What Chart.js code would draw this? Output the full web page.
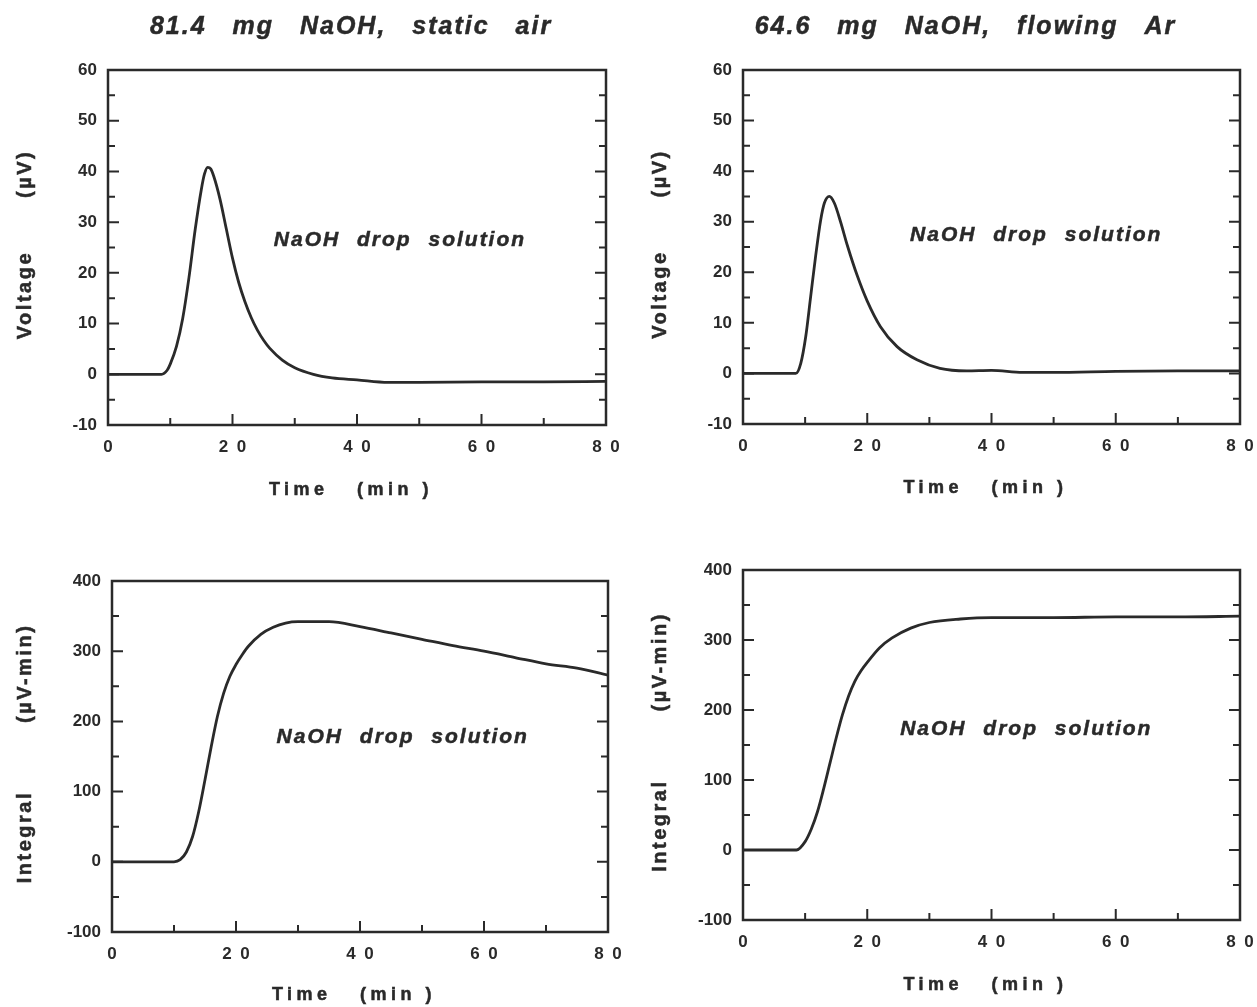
<!DOCTYPE html>
<html>
<head>
<meta charset="utf-8">
<script src="https://cdn.jsdelivr.net/npm/chart.js@4/dist/chart.umd.min.js"></script>
<style>
  body { margin: 0; background: #fff; }
  .panel { position: absolute; }
</style>
</head>
<body>
<div class="panel" style="left:0;top:0;width:626px;height:510px"><canvas id="airVolt"></canvas></div>
<div class="panel" style="left:630px;top:0;width:627px;height:510px"><canvas id="arVolt"></canvas></div>
<div class="panel" style="left:0;top:510px;width:626px;height:497px"><canvas id="airInt"></canvas></div>
<div class="panel" style="left:630px;top:500px;width:627px;height:507px"><canvas id="arInt"></canvas></div>
<script>
// NaOH drop solution calorimetry, four panels

const timeTicks = [0, 20, 40, 60, 80];
const voltageTicks = [-10, 0, 10, 20, 30, 40, 50, 60];
const integralTicks = [-100, 0, 100, 200, 300, 400];

// 81.4 mg NaOH, static air
const airTime = [0, 5, 8.6, 9.5, 10, 11, 12, 13, 14, 15, 15.5, 16, 16.5, 17, 18, 19, 20, 21, 22, 23, 24, 25, 26, 28, 30, 33, 36, 40, 45, 50, 60, 70, 80];
const airVoltage = [0, 0, 0, 0.8, 2, 5.5, 11, 19, 28.5, 36.5, 39.5, 40.8, 40.5, 39, 34.5, 28.7, 22.9, 18.1, 14.3, 11.2, 8.7, 6.7, 5.1, 2.8, 1.3, 0, -0.7, -1.1, -1.6, -1.6, -1.5, -1.5, -1.4];

// 64.6 mg NaOH, flowing Ar
const arTime = [0, 5, 8.5, 9.3, 10.1, 10.9, 11.7, 12.5, 13.1, 13.9, 14.7, 15.7, 16.8, 18.4, 20, 22.1, 24.8, 28, 31.7, 36, 40, 45, 50, 60, 70, 80];
const arVoltage = [0, 0, 0, 2, 7.3, 15.3, 23.3, 30.3, 33.7, 35, 33.7, 30, 25.3, 19.3, 14.3, 9.3, 5.3, 2.7, 1, 0.5, 0.6, 0.2, 0.2, 0.4, 0.5, 0.5];

const airIntTime = [0, 5, 10, 11, 12, 13, 14, 15, 16, 17, 18, 19, 20, 21, 22, 24, 26, 28, 30, 35, 40, 45, 50, 55, 60, 65, 70, 75, 80];
const airIntegral = [0, 0, 0, 3, 14, 36, 72, 117, 164, 207, 240, 264, 281, 295, 307, 324, 334, 340, 342, 342, 335, 326, 317, 308, 300, 291, 282, 276, 266];

const arIntTime = [0, 5, 8.6, 10, 11, 12, 13, 14, 15, 16, 17, 18, 19, 20, 22, 24, 27, 30, 35, 40, 50, 60, 70, 80];
const arIntegral = [0, 0, 0, 12, 30, 55, 88, 124, 160, 193, 220, 241, 256, 268, 289, 303, 317, 325, 330, 332, 332, 333, 333, 334];

const ink = "#2a2a2a";
const family = "'Liberation Sans', Arial, Helvetica, sans-serif";

function drawText(ctx, str, x, y, font, spacing, words, rotate) {
  ctx.save();
  ctx.font = font;
  ctx.fillStyle = ink;
  ctx.strokeStyle = ink;
  ctx.lineWidth = 0.5;
  ctx.textAlign = "center";
  ctx.textBaseline = "middle";
  ctx.letterSpacing = spacing + "px";
  ctx.wordSpacing = words + "px";
  ctx.translate(x, y);
  if (rotate) ctx.rotate(-Math.PI / 2);
  ctx.fillText(str, 0, 0);
  ctx.strokeText(str, 0, 0);
  ctx.restore();
}

// closed frame, inward ticks on left / right / bottom, and the panel texts
const framePlugin = {
  id: "frame",
  afterDatasetsDraw(chart, args, opts) {
    const { ctx, chartArea: a, scales: { x, y } } = chart;
    ctx.save();
    ctx.strokeStyle = ink;
    ctx.lineWidth = 2.5;
    ctx.strokeRect(a.left, a.top, a.right - a.left, a.bottom - a.top);

    ctx.lineWidth = 2;
    ctx.beginPath();
    for (let v = y.min; v <= y.max; v += opts.yStep) {
      const py = y.getPixelForValue(v);
      const len = opts.yMajor.includes(v) ? 11 : 7;
      ctx.moveTo(a.left, py); ctx.lineTo(a.left + len, py);
      ctx.moveTo(a.right, py); ctx.lineTo(a.right - len, py);
    }
    for (let v = x.min; v <= x.max; v += opts.xStep) {
      const px = x.getPixelForValue(v);
      const len = opts.xMajor.includes(v) ? 11 : 7;
      ctx.moveTo(px, a.bottom); ctx.lineTo(px, a.bottom - len);
    }
    ctx.stroke();
    ctx.restore();

    const cx = (a.left + a.right) / 2;
    const cy = (a.top + a.bottom) / 2;
    if (opts.heading) {
      drawText(ctx, opts.heading, cx + opts.headingDx, a.top - 43, "italic bold 25px " + family, 2, 17, false);
    }
    drawText(ctx, opts.yTitle, a.left + opts.yTitleDx, cy + opts.yTitleDy, "bold 20px " + family, 2.5, opts.yGap, true);
    drawText(ctx, opts.xTitle, cx - 6, a.bottom + opts.xTitleDy, "bold 18px " + family, 4.5, 0, false);
    drawText(ctx, opts.note, x.getPixelForValue(opts.noteAt[0]), y.getPixelForValue(opts.noteAt[1]),
      "italic bold 21px " + family, 2, 9, false);
  }
};

function makeChart(id, time, values, yTicks, cfg) {
  return new Chart(document.getElementById(id), {
    type: "line",
    data: {
      datasets: [{
        data: time.map((t, i) => ({ x: t, y: values[i] })),
        borderColor: ink,
        borderWidth: 2.8,
        pointRadius: 0,
        cubicInterpolationMode: "monotone",
        fill: false
      }]
    },
    options: {
      responsive: true,
      maintainAspectRatio: false,
      animation: false,
      layout: { padding: { top: cfg.top, right: cfg.right, left: 0, bottom: 0 } },
      plugins: {
        legend: { display: false },
        tooltip: { enabled: false },
        frame: {
          xStep: 10, xMajor: timeTicks,
          yStep: cfg.yStep, yMajor: yTicks,
          heading: cfg.heading, headingDx: cfg.headingDx,
          yTitle: cfg.yTitle, yTitleDx: cfg.yTitleDx, yTitleDy: cfg.yTitleDy, yGap: cfg.yGap,
          xTitle: "Time   (min )", xTitleDy: cfg.xTitleDy,
          note: "NaOH drop solution", noteAt: cfg.noteAt
        }
      },
      scales: {
        x: {
          type: "linear",
          min: 0,
          max: 80,
          grid: { display: false, drawTicks: false },
          border: { display: false },
          afterBuildTicks: s => { s.ticks = timeTicks.map(v => ({ value: v })); },
          afterFit: s => { s.height = cfg.xHeight; s.paddingLeft = 0; s.paddingRight = 0; },
          ticks: {
            padding: 12,
            color: ink,
            maxRotation: 0,
            autoSkip: false,
            font: { family: family, size: 17, weight: "bold" },
            callback: v => String(v).split("").join("\u2002")
          }
        },
        y: {
          min: yTicks[0],
          max: yTicks[yTicks.length - 1],
          grid: { display: false, drawTicks: false },
          border: { display: false },
          afterBuildTicks: s => { s.ticks = yTicks.map(v => ({ value: v })); },
          afterFit: s => { s.width = cfg.yWidth; s.paddingTop = 0; s.paddingBottom = 0; },
          ticks: {
            padding: 11,
            color: ink,
            font: { family: family, size: 17, weight: "bold" }
          }
        }
      }
    },
    plugins: [framePlugin]
  });
}

makeChart("airVolt", airTime, airVoltage, voltageTicks, {
  top: 70, right: 20, xHeight: 85, yWidth: 108, yStep: 5,
  heading: "81.4 mg NaOH, static air", headingDx: -6,
  yTitle: "Voltage (\u00b5V)", yTitleDx: -83, yTitleDy: -3, yGap: 45, xTitleDy: 65,
  noteAt: [46.9, 26.5]
});

makeChart("arVolt", arTime, arVoltage, voltageTicks, {
  top: 70, right: 17, xHeight: 86, yWidth: 113, yStep: 5,
  heading: "64.6 mg NaOH, flowing Ar", headingDx: -26,
  yTitle: "Voltage (\u00b5V)", yTitleDx: -83, yTitleDy: -3, yGap: 45, xTitleDy: 64,
  noteAt: [47.2, 27.3]
});

makeChart("airInt", airIntTime, airIntegral, integralTicks, {
  top: 71, right: 18, xHeight: 75, yWidth: 112, yStep: 50,
  yTitle: "Integral (\u00b5V-min)", yTitleDx: -87, yTitleDy: -3, yGap: 60, xTitleDy: 63,
  noteAt: [46.9, 178]
});

makeChart("arInt", arIntTime, arIntegral, integralTicks, {
  top: 70, right: 17, xHeight: 87, yWidth: 113, yStep: 50,
  yTitle: "Integral (\u00b5V-min)", yTitleDx: -83, yTitleDy: -3, yGap: 60, xTitleDy: 65,
  noteAt: [45.6, 173]
});
</script>
</body>
</html>
